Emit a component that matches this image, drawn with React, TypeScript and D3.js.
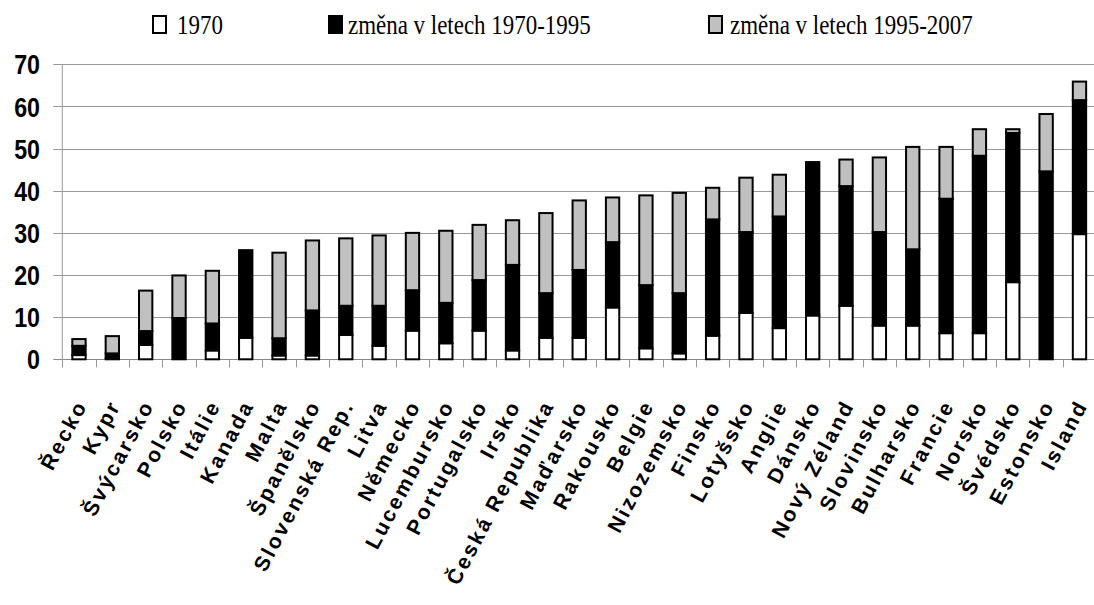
import React, { useEffect, useRef } from "react";
import * as d3 from "d3";

const countries = [
  "Řecko", "Kypr", "Švýcarsko", "Polsko", "Itálie", "Kanada", "Malta",
  "Španělsko", "Slovenská Rep.", "Litva", "Německo", "Lucembursko",
  "Portugalsko", "Irsko", "Česká Republika", "Maďarsko", "Rakousko",
  "Belgie", "Nizozemsko", "Finsko", "Lotyšsko", "Anglie", "Dánsko",
  "Nový Zéland", "Slovinsko", "Bulharsko", "Francie", "Norsko", "Švédsko",
  "Estonsko", "Island",
];

const base1970 = [
  1.0, 0.2, 3.4, 0, 2.1, 5.1, 0.9, 0.9, 5.8, 3.2, 6.8, 3.8, 6.8, 2.1, 5.1,
  5.1, 12.3, 2.6, 1.4, 5.6, 11.0, 7.4, 10.4, 12.7, 8.0, 8.0, 6.2, 6.2, 18.3,
  0, 29.7,
];

const change7095 = [
  2.2, 1.2, 3.3, 9.8, 6.4, 20.8, 4.1, 10.7, 6.9, 9.5, 9.6, 9.6, 12.0, 20.3,
  10.6, 16.1, 15.5, 15.0, 14.3, 27.6, 19.2, 26.5, 36.4, 28.4, 22.2, 18.1,
  31.9, 42.1, 35.4, 44.6, 31.8,
];

const change9507 = [
  1.6, 4.1, 9.6, 10.1, 12.5, 0, 20.3, 16.6, 16.0, 16.7, 13.6, 17.1, 13.1,
  10.6, 19.0, 16.5, 10.6, 21.3, 23.8, 7.5, 12.9, 9.9, 0, 6.3, 17.7, 24.3,
  12.3, 6.3, 0.9, 13.6, 4.4,
];

const seriesNames = ["1970", "změna v letech 1970-1995", "změna v letech 1995-2007"];
const seriesColors = ["#ffffff", "#000000", "#c0c0c0"];
const yTicks = [0, 10, 20, 30, 40, 50, 60, 70];

const W = 1094;
const H = 605;

export default function App() {
  const ref = useRef<SVGSVGElement>(null);

  useEffect(() => {
    const svg = d3.select(ref.current);
    svg.selectAll("*").remove();

    const left = 62.3;
    const step = 33.35;
    const x = d3
      .scaleBand<string>()
      .domain(countries)
      .range([left, left + step * countries.length])
      .paddingInner(0.6)
      .paddingOuter(0.3);
    const y = d3.scaleLinear().domain([0, 70]).range([359.3, 64.3]);

    const rows = countries.map((c, i) => ({
      name: c,
      a: base1970[i],
      b: change7095[i],
      c: change9507[i],
    }));
    const stacked = d3.stack<any>().keys(["a", "b", "c"])(rows);

    // gridlines + y ticks
    svg
      .append("g")
      .selectAll("line")
      .data(yTicks)
      .enter()
      .append("line")
      .attr("x1", left - 9)
      .attr("x2", x.range()[1])
      .attr("y1", (d) => Math.round(y(d)) + 0.5)
      .attr("y2", (d) => Math.round(y(d)) + 0.5)
      .attr("stroke", (d) => (d === 0 ? "#888" : "#999"))
      .attr("stroke-width", 1);

    // y axis line
    svg
      .append("line")
      .attr("x1", left)
      .attr("x2", left)
      .attr("y1", y(70))
      .attr("y2", y(0))
      .attr("stroke", "#999");

    // x ticks at band boundaries
    svg
      .append("g")
      .selectAll("line")
      .data(d3.range(countries.length + 1))
      .enter()
      .append("line")
      .attr("x1", (i) => Math.round(left + i * x.step()) + 0.5)
      .attr("x2", (i) => Math.round(left + i * x.step()) + 0.5)
      .attr("y1", y(0))
      .attr("y2", y(0) + 8)
      .attr("stroke", "#999");

    // y labels
    svg
      .append("g")
      .selectAll("text")
      .data(yTicks)
      .enter()
      .append("text")
      .attr("transform", (d) => `translate(40,${y(d)}) scale(0.83,1)`)
      .attr("text-anchor", "end")
      .attr("dy", "0.36em")
      .attr("font-family", "'Liberation Sans', Arial, sans-serif")
      .attr("font-weight", "bold")
      .attr("font-size", 28)
      .text((d) => d);

    // bars
    stacked.forEach((layer, li) => {
      svg
        .append("g")
        .selectAll("rect")
        .data(layer.filter((d) => d[1] - d[0] > 0))
        .enter()
        .append("rect")
        .attr("x", (d) => x(d.data.name)!)
        .attr("width", x.bandwidth())
        .attr("y", (d) => y(d[1]))
        .attr("height", (d) => y(d[0]) - y(d[1]))
        .attr("fill", seriesColors[li])
        .attr("stroke", "#000")
        .attr("stroke-width", 2);
    });

    // x labels
    svg
      .append("g")
      .selectAll("text")
      .data(countries)
      .enter()
      .append("text")
      .attr(
        "transform",
        (d) => `translate(${x(d)! + x.bandwidth() / 2 + 9},405) rotate(-62)`
      )
      .attr("text-anchor", "end")
      .attr("font-family", "'Liberation Sans', Arial, sans-serif")
      .attr("font-weight", "bold")
      .attr("font-size", 21)
      .attr("letter-spacing", 2.5)
      .text((d) => d);

    // legend
    const legendX = [
      { sq: 153, tx: 177 },
      { sq: 329, tx: 348 },
      { sq: 709, tx: 730 },
    ];
    const lg = svg
      .append("g")
      .selectAll("g")
      .data(seriesNames)
      .enter()
      .append("g");
    lg.append("rect")
      .attr("x", (d, i) => legendX[i].sq)
      .attr("y", 16)
      .attr("width", 13)
      .attr("height", 17)
      .attr("fill", (d, i) => seriesColors[i])
      .attr("stroke", "#000")
      .attr("stroke-width", 2);
    lg.append("text")
      .attr("transform", (d, i) => `translate(${legendX[i].tx},34) scale(0.85,1)`)
      .attr("font-family", "'Liberation Serif', 'Times New Roman', serif")
      .attr("font-size", 27)
      .text((d) => d);
  }, []);

  return (
    <svg
      ref={ref}
      width={W}
      height={H}
      style={{ position: "absolute", left: 0, top: 0, background: "#fff" }}
    ></svg>
  );
}
